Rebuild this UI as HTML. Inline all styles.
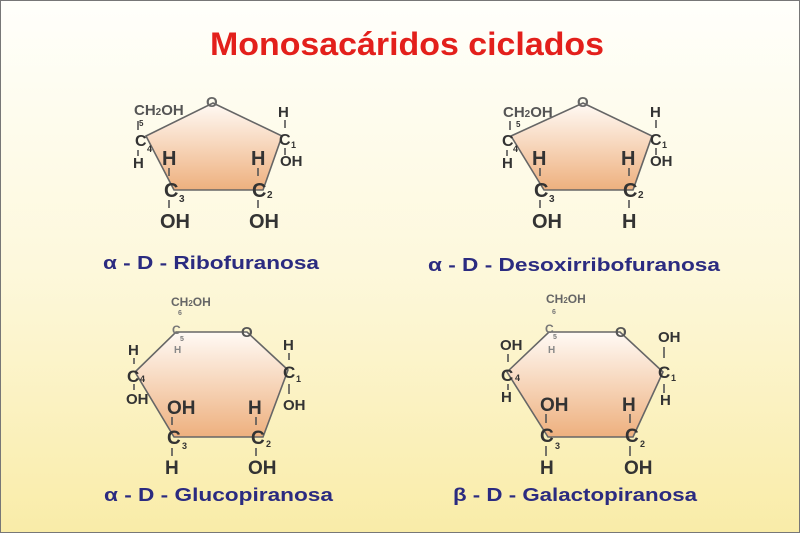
<!DOCTYPE html>
<html><head><meta charset="utf-8"><style>
html,body{margin:0;padding:0}
body{width:800px;height:533px;overflow:hidden}
svg text{font-family:"Liberation Sans",Arial,sans-serif;font-weight:bold}
</style></head><body>
<svg width="800" height="533" viewBox="0 0 800 533" xmlns="http://www.w3.org/2000/svg">
<defs>
<linearGradient id="bg" x1="0" y1="0" x2="0" y2="1">
<stop offset="0" stop-color="#fffffb"/><stop offset="0.5" stop-color="#fdf8dc"/><stop offset="1" stop-color="#f9eca8"/>
</linearGradient>
<linearGradient id="sh" x1="0" y1="0" x2="0" y2="1">
<stop offset="0" stop-color="#fffaf5"/><stop offset="1" stop-color="#eeb07e"/>
</linearGradient>
</defs>
<rect x="0.5" y="0.5" width="799" height="532" fill="url(#bg)" stroke="#777"/>
<text x="210" y="55" font-size="32" fill="#e3201b" textLength="394" lengthAdjust="spacingAndGlyphs">Monosacáridos ciclados</text>

<g stroke="#666" stroke-width="1.6" fill="url(#sh)">
<polygon points="213,103 282,136 263,190 174,190 146,136"/>
<polygon points="583,103 652,136 633,190 544,190 511,136"/>
<polygon points="176,332 247,332 288,370 263,437 174,437 135,372"/>
<polygon points="549,332 620,332 663,372 633,437 548,437 507,372"/>
</g>

<g fill="#333" stroke="#555" stroke-width="1.6">
<g stroke="none">
<text x="134" y="115" font-size="15" fill="#555">CH<tspan font-size="10">2</tspan>OH</text>
<text x="139" y="126" font-size="8">5</text>
<text x="206" y="107" font-size="15" fill="#666">O</text>
<text x="135" y="146" font-size="16">C</text><text x="147" y="152" font-size="9">4</text>
<text x="133" y="168" font-size="15">H</text>
<text x="278" y="117" font-size="15">H</text>
<text x="279" y="145" font-size="16">C</text><text x="291" y="148" font-size="9">1</text>
<text x="280" y="166" font-size="15">OH</text>
<text x="162" y="165" font-size="20">H</text>
<text x="164" y="197" font-size="20">C</text><text x="179" y="202" font-size="10">3</text>
<text x="160" y="228" font-size="20">OH</text>
<text x="251" y="165" font-size="20">H</text>
<text x="252" y="197" font-size="20">C</text><text x="267" y="198" font-size="10">2</text>
<text x="249" y="228" font-size="20">OH</text>
</g>
<line x1="138" y1="121" x2="138" y2="130"/><line x1="138" y1="150" x2="138" y2="156"/>
<line x1="285" y1="120" x2="285" y2="128"/><line x1="285" y1="148" x2="285" y2="155"/>
<line x1="169" y1="168" x2="169" y2="176"/><line x1="169" y1="200" x2="169" y2="208"/>
<line x1="258" y1="168" x2="258" y2="176"/><line x1="258" y1="200" x2="258" y2="208"/>

<g stroke="none">
<text x="503" y="117" font-size="15" fill="#555">CH<tspan font-size="10">2</tspan>OH</text>
<text x="516" y="127" font-size="8">5</text>
<text x="577" y="107" font-size="15" fill="#666">O</text>
<text x="502" y="146" font-size="16">C</text><text x="513" y="152" font-size="9">4</text>
<text x="502" y="168" font-size="15">H</text>
<text x="650" y="117" font-size="15">H</text>
<text x="650" y="145" font-size="16">C</text><text x="662" y="148" font-size="9">1</text>
<text x="650" y="166" font-size="15">OH</text>
<text x="532" y="165" font-size="20">H</text>
<text x="534" y="197" font-size="20">C</text><text x="549" y="202" font-size="10">3</text>
<text x="532" y="228" font-size="20">OH</text>
<text x="621" y="165" font-size="20">H</text>
<text x="623" y="197" font-size="20">C</text><text x="638" y="198" font-size="10">2</text>
<text x="622" y="228" font-size="20">H</text>
</g>
<line x1="510" y1="121" x2="510" y2="130"/><line x1="507" y1="150" x2="507" y2="156"/>
<line x1="656" y1="120" x2="656" y2="128"/><line x1="656" y1="148" x2="656" y2="155"/>
<line x1="540" y1="168" x2="540" y2="176"/><line x1="540" y1="200" x2="540" y2="208"/>
<line x1="629" y1="168" x2="629" y2="176"/><line x1="629" y1="200" x2="629" y2="208"/>

<g stroke="none">
<text x="171" y="306" font-size="12" fill="#666">CH<tspan font-size="8">2</tspan>OH</text>
<text x="178" y="315" font-size="7" fill="#777">6</text>
<text x="172" y="334" font-size="12" fill="#777">C</text><text x="180" y="341" font-size="7" fill="#777">5</text>
<text x="174" y="353" font-size="10" fill="#888">H</text>
<text x="241" y="337" font-size="15" fill="#555">O</text>
<text x="128" y="355" font-size="15">H</text>
<text x="127" y="382" font-size="17">C</text><text x="140" y="382" font-size="9">4</text>
<text x="126" y="404" font-size="15">OH</text>
<text x="283" y="350" font-size="15">H</text>
<text x="283" y="378" font-size="17">C</text><text x="296" y="382" font-size="9">1</text>
<text x="283" y="410" font-size="15">OH</text>
<text x="167" y="414" font-size="19">OH</text>
<text x="167" y="444" font-size="19">C</text><text x="182" y="449" font-size="9">3</text>
<text x="165" y="474" font-size="19">H</text>
<text x="248" y="414" font-size="19">H</text>
<text x="251" y="444" font-size="19">C</text><text x="266" y="447" font-size="9">2</text>
<text x="248" y="474" font-size="19">OH</text>
</g>
<line x1="134" y1="358" x2="134" y2="364"/><line x1="134" y1="384" x2="134" y2="390"/>
<line x1="289" y1="353" x2="289" y2="360"/><line x1="289" y1="384" x2="289" y2="394"/>
<line x1="172" y1="417" x2="172" y2="425"/><line x1="172" y1="448" x2="172" y2="456"/>
<line x1="256" y1="417" x2="256" y2="425"/><line x1="256" y1="448" x2="256" y2="456"/>

<g stroke="none">
<text x="546" y="303" font-size="12" fill="#666">CH<tspan font-size="8">2</tspan>OH</text>
<text x="552" y="314" font-size="7" fill="#777">6</text>
<text x="545" y="333" font-size="12" fill="#777">C</text><text x="553" y="339" font-size="7" fill="#777">5</text>
<text x="548" y="353" font-size="10" fill="#888">H</text>
<text x="615" y="337" font-size="15" fill="#555">O</text>
<text x="500" y="350" font-size="15">OH</text>
<text x="501" y="381" font-size="17">C</text><text x="515" y="381" font-size="9">4</text>
<text x="501" y="402" font-size="15">H</text>
<text x="658" y="342" font-size="15">OH</text>
<text x="658" y="378" font-size="17">C</text><text x="671" y="381" font-size="9">1</text>
<text x="660" y="405" font-size="15">H</text>
<text x="540" y="411" font-size="19">OH</text>
<text x="540" y="442" font-size="19">C</text><text x="555" y="449" font-size="9">3</text>
<text x="540" y="474" font-size="19">H</text>
<text x="622" y="411" font-size="19">H</text>
<text x="625" y="442" font-size="19">C</text><text x="640" y="447" font-size="9">2</text>
<text x="624" y="474" font-size="19">OH</text>
</g>
<line x1="508" y1="354" x2="508" y2="362"/><line x1="508" y1="384" x2="508" y2="390"/>
<line x1="664" y1="347" x2="664" y2="358"/><line x1="664" y1="384" x2="664" y2="393"/>
<line x1="546" y1="414" x2="546" y2="423"/><line x1="546" y1="446" x2="546" y2="456"/>
<line x1="630" y1="414" x2="630" y2="423"/><line x1="630" y1="446" x2="630" y2="456"/>
</g>

<g fill="#2b2b80" font-size="18">
<text x="103" y="269" textLength="216" lengthAdjust="spacingAndGlyphs">α - D - Ribofuranosa</text>
<text x="428" y="271" textLength="292" lengthAdjust="spacingAndGlyphs">α - D - Desoxirribofuranosa</text>
<text x="104" y="501" textLength="229" lengthAdjust="spacingAndGlyphs">α - D - Glucopiranosa</text>
<text x="453" y="501" textLength="244" lengthAdjust="spacingAndGlyphs">β - D - Galactopiranosa</text>
</g>
</svg>
</body></html>
